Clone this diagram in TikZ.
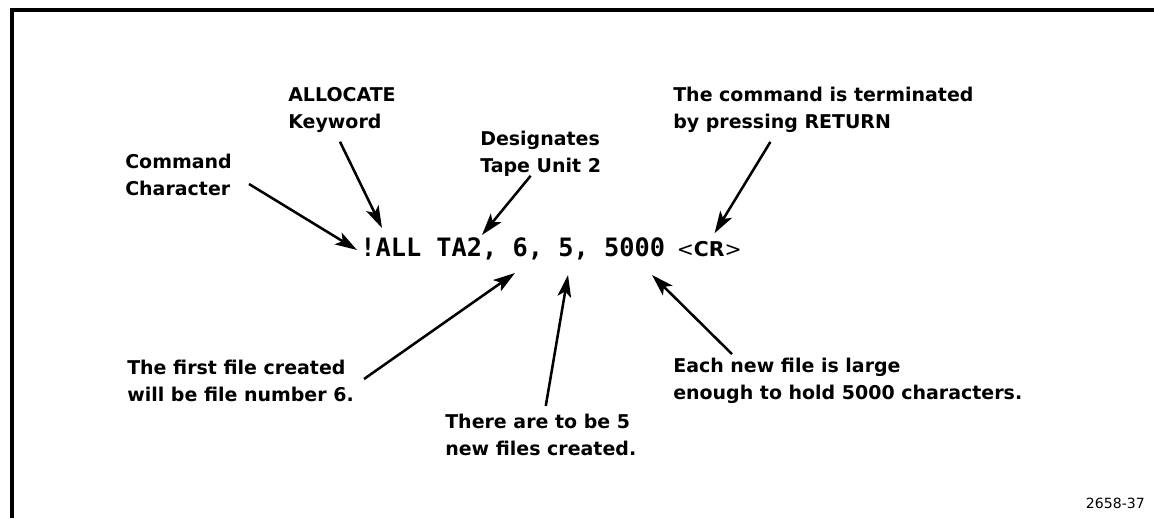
\documentclass[tikz,border=0pt]{standalone}
\usepackage{fontspec}
\setmainfont{DejaVu Sans}
\newfontfamily\cmdfont{DejaVu Sans Mono}
\usetikzlibrary{arrows.meta, positioning}

\begin{document}
\begin{tikzpicture}[x=0.025cm, y=-0.025cm,
    >={Stealth[length=5.5mm, width=3.4mm, inset=1.3mm]},
    note/.style={font=\bfseries\fontsize{13.5}{19}\selectfont, align=left, inner sep=0pt, anchor=west},
    pointer/.style={->, line width=1.8pt}]
    \useasboundingbox (0,0) rectangle (1154,518);

    % Khung
    \draw[line width=2.6pt] (12,518) -- (12,10) -- (1154,10);

    % Dòng lệnh
    \node[anchor=west, inner sep=0pt, font=\cmdfont\bfseries\fontsize{18}{18}\selectfont] (cmd) at (360,249) {!ALL TA2, 6, 5, 5000};
    \node[right=8pt of cmd.base east, anchor=base west, inner sep=0pt, font=\fontsize{14.5}{16}\selectfont] (cr) {<\textbf{CR}>};

    % Chú thích phía trên
    \node[note] (cmdchar) at (125,175) {Command\\Character};
    \node[note] (keyword) at (288,110) {ALLOCATE\\Keyword};
    \node[note] (unit) at (480,154) {Designates\\Tape Unit 2};
    \node[note] (ret) at (673,110) {The command is terminated\\by pressing RETURN};

    % Chú thích phía dưới
    \node[note] (first) at (127,381) {The first file created\\will be file number 6.};
    \node[note] (count) at (445,435) {There are to be 5\\new files created.};
    \node[note] (size) at (673,381) {Each new file is large\\enough to hold 5000 characters.};
    \node[anchor=east, inner sep=0pt, font=\fontsize{10}{12}\selectfont] (fig) at (1145,503) {2658-37};

    % Mũi tên
    \draw[pointer] ([shift={(17,9)}]cmdchar.east) -- ([shift={(-3,1)}]cmd.west);
    \draw[pointer] ([shift={(-2,9)}]keyword.south) -- ([shift={(22,-21)}]cmd.west);
    \draw[pointer] ([shift={(-10,-1)}]unit.south) -- ([shift={(122,-14)}]cmd.west);
    \draw[pointer] ([shift={(-53,9)}]ret.south) -- ([shift={(38,-16)}]cr.west);
    \draw[pointer] ([shift={(10,-2)}]first.east) -- ([shift={(155,24)}]cmd.west);
    \draw[pointer] ([shift={(5,-8)}]count.north) -- ([shift={(208,26)}]cmd.west);
    \draw[pointer] ([shift={(59,-4)}]size.north west) -- ([shift={(292,26)}]cmd.west);
\end{tikzpicture}
\end{document}
